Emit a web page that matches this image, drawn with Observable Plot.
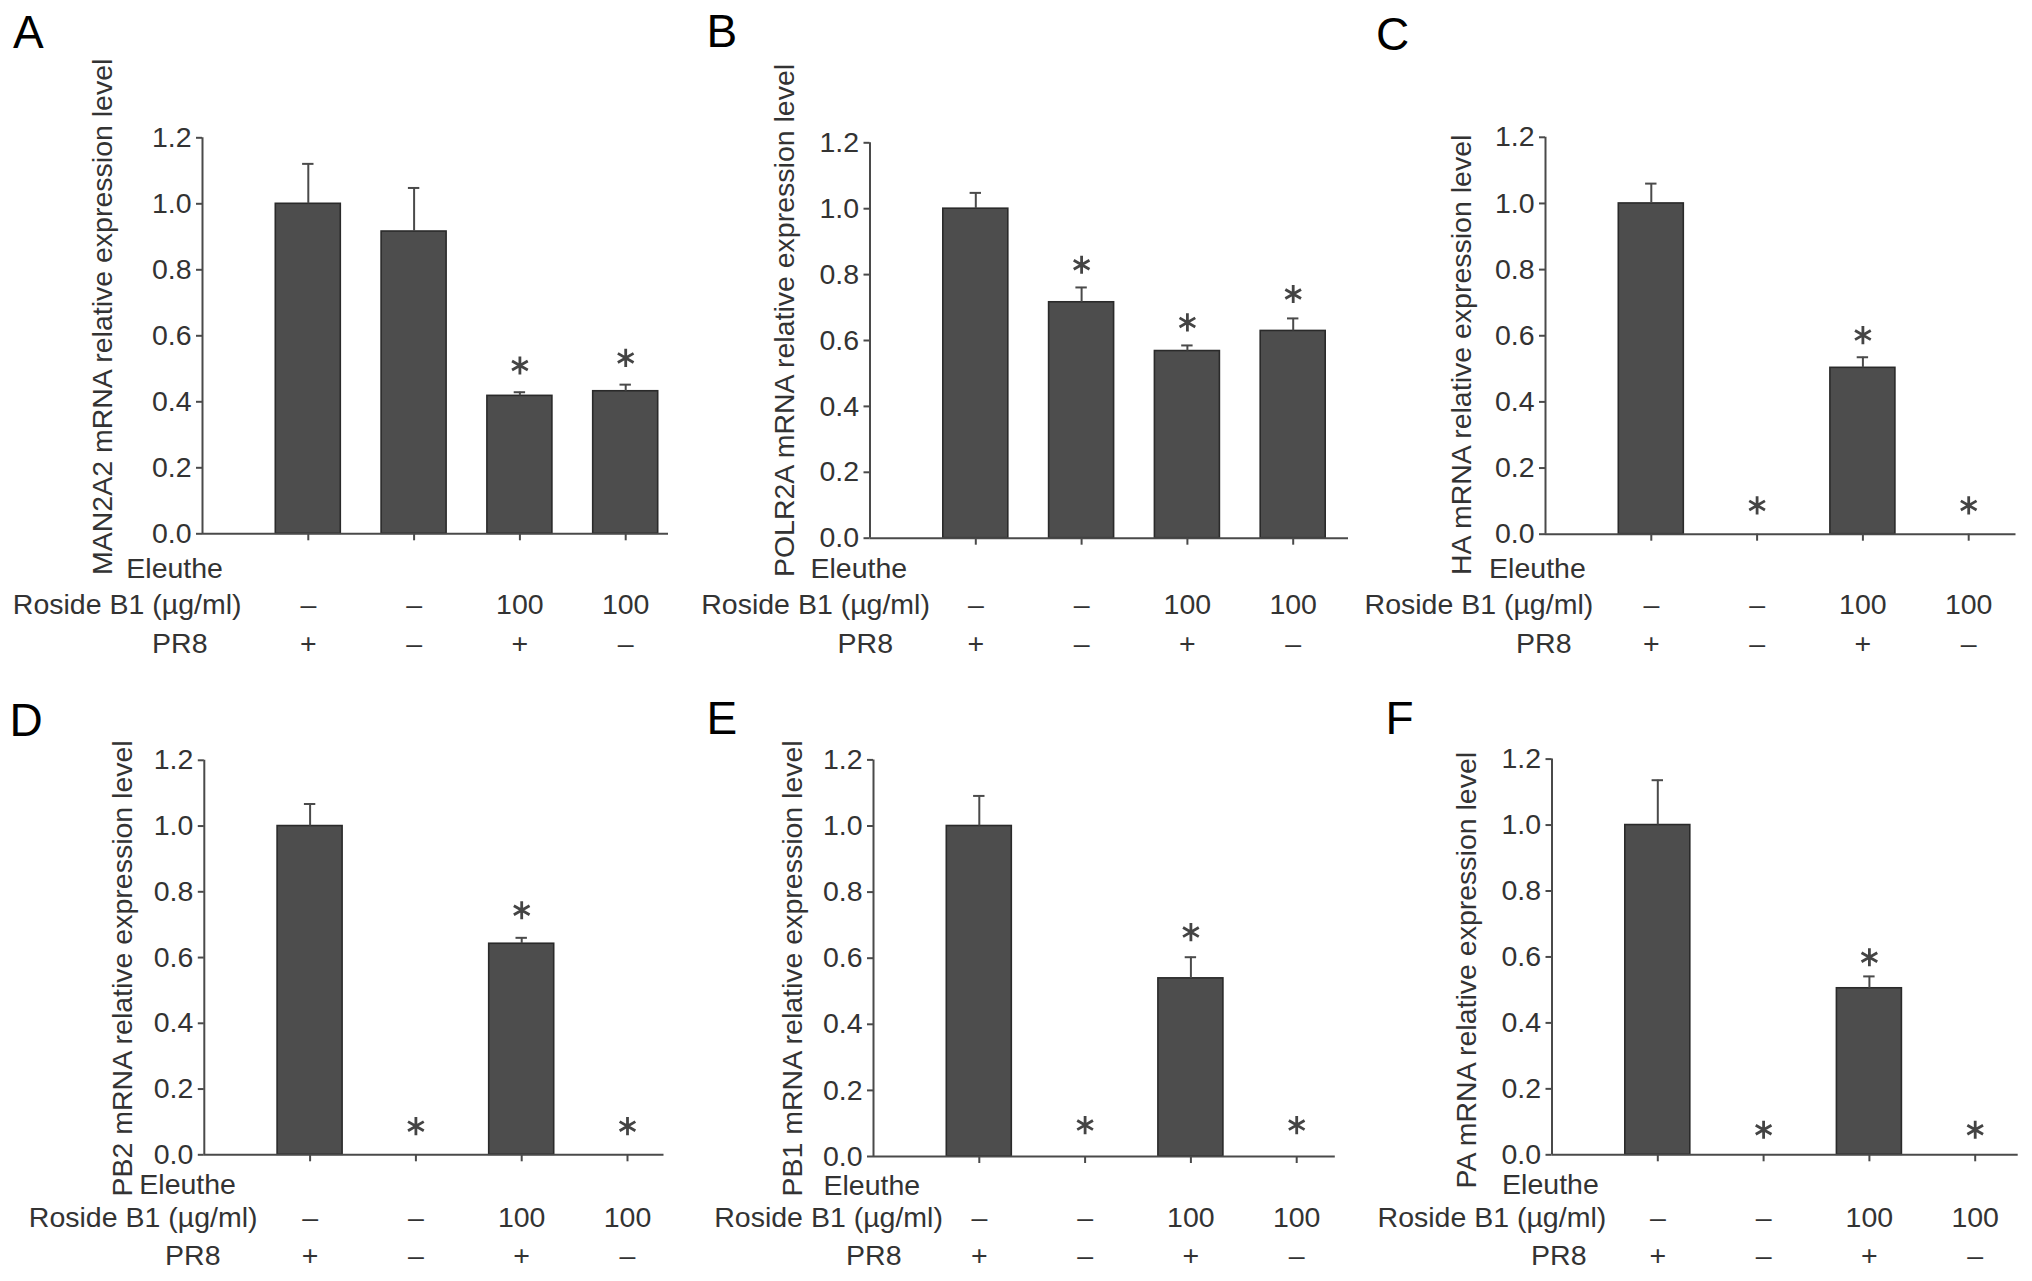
<!DOCTYPE html>
<html><head><meta charset="utf-8">
<script src="https://cdn.jsdelivr.net/npm/d3@7"></script>
<script src="https://cdn.jsdelivr.net/npm/@observablehq/plot@0.6"></script>
<style>
html,body{margin:0;padding:0;background:#fff;}
#fig{position:relative;width:2032px;height:1281px;overflow:hidden;background:#fff;font-family:"Liberation Sans",Arial,Helvetica,sans-serif;}
.panel{position:absolute;}
.letter{position:absolute;font-size:46px;line-height:1;color:#000;}
</style></head><body><div id="fig"></div>
<script>
// ---------------- data ----------------
const groups = [1, 2, 3, 4];
const eleutherosideDose = ["–", "–", "100", "100"];
const pr8Infection = ["+", "–", "+", "–"];
const yTicks = [0, 0.2, 0.4, 0.6, 0.8, 1.0, 1.2];
const panelLetters = ["A", "B", "C", "D", "E", "F"];
const geneNames = ["MAN2A2", "POLR2A", "HA", "PB2", "PB1", "PA"];
const rowLabelTop = "Eleuthe";
const rowLabelDose = "Roside B1 (µg/ml)";
const rowLabelVirus = "PR8";

const man2a2Mean = [1.0, 0.916, 0.418, 0.432];
const man2a2Sem  = [0.121, 0.132, 0.011, 0.020];
const man2a2Star = [null, null, 0.510, 0.533];

const polr2aMean = [1.0, 0.716, 0.568, 0.629];
const polr2aSem  = [0.048, 0.045, 0.017, 0.038];
const polr2aStar = [null, 0.830, 0.655, 0.741];

const haMean = [1.0, 0, 0.503, 0];
const haSem  = [0.060, 0, 0.032, 0];
const haStar = [null, 0.087, 0.602, 0.087];

const pb2Mean = [1.0, 0, 0.642, 0];
const pb2Sem  = [0.067, 0, 0.018, 0];
const pb2Star = [null, 0.087, 0.744, 0.087];

const pb1Mean = [1.0, 0, 0.539, 0];
const pb1Sem  = [0.091, 0, 0.064, 0];
const pb1Star = [null, 0.095, 0.679, 0.095];

const paMean = [1.0, 0, 0.505, 0];
const paSem  = [0.136, 0, 0.036, 0];
const paStar = [null, 0.076, 0.599, 0.076];

const seriesMeans = [man2a2Mean, polr2aMean, haMean, pb2Mean, pb1Mean, paMean];
const seriesSems  = [man2a2Sem, polr2aSem, haSem, pb2Sem, pb1Sem, paSem];
const seriesStars = [man2a2Star, polr2aStar, haStar, pb2Star, pb1Star, paStar];

// ---------------- layout (pixels) ----------------
const FONT = "Liberation Sans, Arial, Helvetica, sans-serif";
const FS = 28.5;
const SPACING = 105.8;
const TXT_SHIFT = 7.5;   // baseline correction for middle-anchored labels
const layout = [
  {L:0,    T:0,   W:680, H:680, axisX:202,    axisEnd:668,    y12:137.3, y0:533.3, el:125.8,  ros:241,    pr:207,    ylx:104,    yls:574.5, rows:[570,606,645], lx:13,     ly:9},
  {L:680,  T:0,   W:670, H:680, axisX:869.5,  axisEnd:1348,   y12:142.3, y0:537.7, el:810,    ros:929.4,  pr:892.5,  ylx:786,    yls:576.6, rows:[570,606,645], lx:706.5,  ly:7.5},
  {L:1350, T:0,   W:682, H:680, axisX:1545,   axisEnd:2015.5, y12:136.8, y0:533.7, el:1488.6, ros:1592.7, pr:1571,   ylx:1462.6, yls:574.5, rows:[570,606,645], lx:1376,   ly:10.5},
  {L:0,    T:680, W:680, H:601, axisX:203.8,  axisEnd:663.5,  y12:759.8, y0:1154.3,el:138.8,  ros:257,    pr:220,    ylx:123.5,  yls:1196,  rows:[1185.5,1219,1257], lx:9.5,  ly:697},
  {L:680,  T:680, W:670, H:601, axisX:873,    axisEnd:1334.8, y12:759.4, y0:1156,  el:823,    ros:942.4,  pr:901,    ylx:793.5,  yls:1196,  rows:[1186.5,1219,1257], lx:706.5, ly:695},
  {L:1350, T:680, W:682, H:601, axisX:1551.5, axisEnd:2017.7, y12:758.6, y0:1154.3,el:1501.6, ros:1605.7, pr:1586,   ylx:1467.5, yls:1188,  rows:[1185.5,1219,1257], lx:1385.5,ly:695}
];

const fig = document.getElementById("fig");
const AXIS = "#4a4a4a", TEXT = "#333";
const halfBar = 65 / SPACING / 2;
const cap = 5.7 / SPACING;

layout.forEach((p, k) => {
  const bars = groups.map((g, j) => ({g, mean: seriesMeans[k][j], sem: seriesSems[k][j], star: seriesStars[k][j], dose: eleutherosideDose[j], pr8: pr8Infection[j]}));
  const nonzero = bars.filter(d => d.mean > 0);
  const starred = bars.filter(d => d.star != null);
  const xMax = (p.axisEnd - p.axisX) / SPACING;
  const mL = p.axisX - p.L, mT = p.y12 - p.T, mB = p.T + p.H - p.y0, mR = p.L + p.W - p.axisEnd;
  const rowDy = p.rows.map(r => r - p.y0 + TXT_SHIFT);

  const chart = Plot.plot({
    width: p.W, height: p.H,
    marginLeft: mL, marginRight: mR, marginTop: mT, marginBottom: mB,
    style: {fontSize: FS + "px", fontFamily: FONT, color: TEXT, background: "transparent", overflow: "visible"},
    x: {type: "linear", domain: [0, xMax]},
    y: {type: "linear", domain: [0, 1.2]},
    marks: [
      Plot.rectY(nonzero, {x1: d => d.g - halfBar, x2: d => d.g + halfBar, y1: 0, y2: "mean", fill: "#4d4d4d", stroke: "#2a2a2a", strokeWidth: 1.6}),
      Plot.ruleX(nonzero, {x: "g", y1: "mean", y2: d => d.mean + d.sem, stroke: AXIS, strokeWidth: 2}),
      Plot.ruleY(nonzero, {y: d => d.mean + d.sem, x1: d => d.g - cap, x2: d => d.g + cap, stroke: AXIS, strokeWidth: 2}),
      Plot.dot(starred, {x: "g", y: "star", symbol: "asterisk", r: 8.6, stroke: "#444", strokeWidth: 2.8}),
      Plot.ruleX([0], {y1: 0, y2: 1.2, stroke: AXIS, strokeWidth: 2}),
      Plot.ruleY([0], {x1: 0, x2: xMax, stroke: AXIS, strokeWidth: 2}),
      Plot.axisY({ticks: yTicks, tickFormat: d3.format(".1f"), tickSize: 6, tickPadding: 5, label: null, stroke: AXIS, strokeWidth: 2, fill: TEXT}),
      Plot.axisX({ticks: groups, tickSize: 7, tickFormat: () => "", label: null, stroke: AXIS, strokeWidth: 2}),
      Plot.text(bars, {x: "g", text: "dose", frameAnchor: "bottom", dy: rowDy[1], fill: TEXT}),
      Plot.text(bars, {x: "g", text: "pr8", frameAnchor: "bottom", dy: rowDy[2], fill: TEXT}),
      Plot.text([rowLabelTop], {text: d => d, frameAnchor: "bottom-left", textAnchor: "start", dx: p.el - p.axisX, dy: rowDy[0], fill: TEXT}),
      Plot.text([rowLabelDose], {text: d => d, frameAnchor: "bottom-left", textAnchor: "end", dx: p.ros - p.axisX, dy: rowDy[1], fill: TEXT}),
      Plot.text([rowLabelVirus], {text: d => d, frameAnchor: "bottom-left", textAnchor: "end", dx: p.pr - p.axisX, dy: rowDy[2], fill: TEXT}),
      Plot.text([geneNames[k] + " mRNA relative expression level"], {text: d => d, frameAnchor: "bottom-left", rotate: -90, textAnchor: "start", dx: p.ylx - p.axisX + TXT_SHIFT, dy: p.yls - p.y0, fill: TEXT})
    ]
  });
  const wrap = document.createElement("div");
  wrap.className = "panel";
  wrap.style.left = p.L + "px";
  wrap.style.top = p.T + "px";
  wrap.appendChild(chart);
  fig.appendChild(wrap);

  const letter = document.createElement("div");
  letter.className = "letter";
  letter.textContent = panelLetters[k];
  letter.style.left = p.lx + "px";
  letter.style.top = p.ly + "px";
  fig.appendChild(letter);
});
</script></body></html>
